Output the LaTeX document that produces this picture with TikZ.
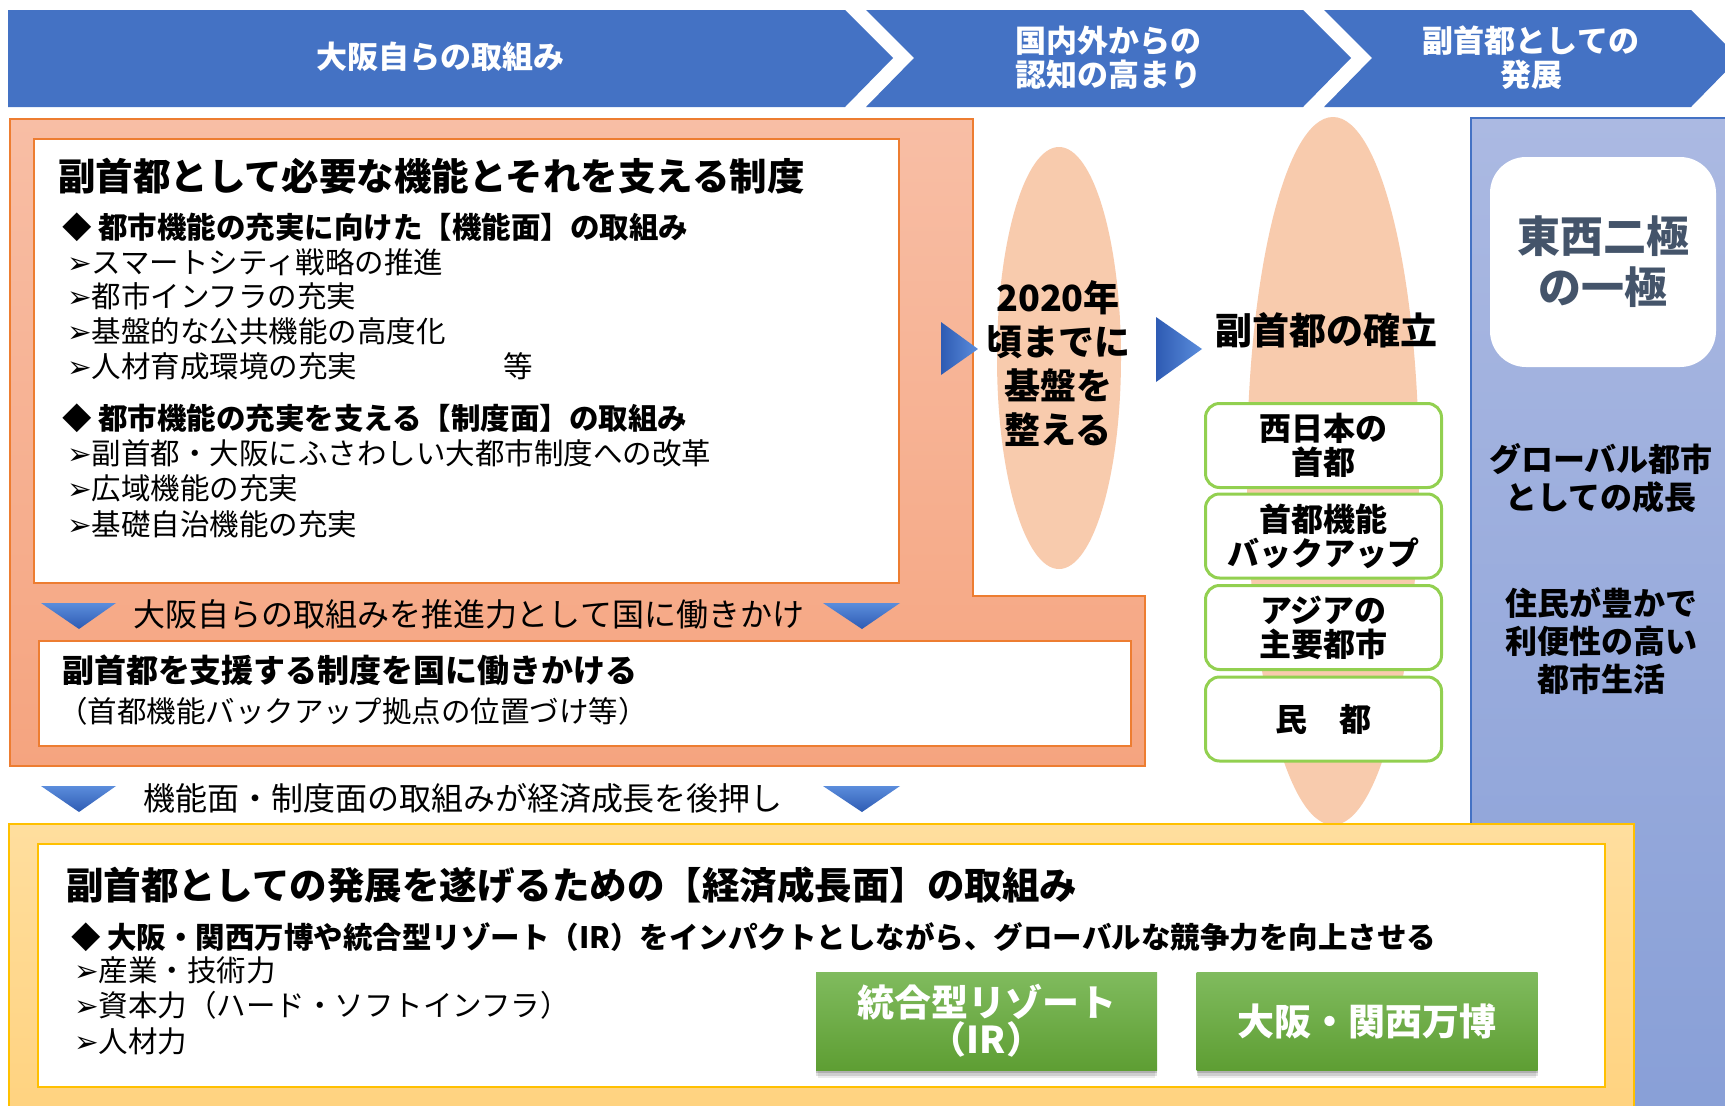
\documentclass[tikz,border=0pt]{standalone}
\usepackage{fontspec}
\setmainfont{Noto Sans CJK JP}
\newfontfamily\dejavu{DejaVu Sans}
\usetikzlibrary{shadows,shapes.geometric}
\newcommand\jfs[2]{\fontsize{#1}{#2}\selectfont}
\newcommand\arr{{\dejavu\bfseries ➢}}
\definecolor{hdrblue}{HTML}{4472C4}
\definecolor{orgtop}{HTML}{F8BEA5}
\definecolor{orgbot}{HTML}{F5A47F}
\definecolor{orgline}{HTML}{ED7D31}
\definecolor{yeltop}{HTML}{FFDE9E}
\definecolor{yelbot}{HTML}{FFD27E}
\definecolor{yelline}{HTML}{FFC000}
\definecolor{paneltop}{HTML}{ABB9E2}
\definecolor{panelbot}{HTML}{889FD7}
\definecolor{ellfill}{HTML}{F8CBAD}
\definecolor{grnline}{HTML}{92D050}
\definecolor{grntop}{HTML}{80BB5E}
\definecolor{grnbot}{HTML}{5E9E33}
\definecolor{tritop}{HTML}{5B8DDC}
\definecolor{tribot}{HTML}{2E5BB3}
\definecolor{slate}{HTML}{44546A}
\begin{document}
\begin{tikzpicture}[x=1pt,y=-1pt]
\tikzset{
  every node/.style={inner sep=0pt, outer sep=0pt},
  txt/.style={anchor=west, font=\jfs{29.5}{35}},
  btxt/.style={anchor=west, font=\bfseries\jfs{29.5}{35}},
  bigtxt/.style={anchor=west, font=\jfs{32}{36}},
  ttl/.style={anchor=west, font=\bfseries\jfs{37.5}{40}},
  hdr/.style={text=white, align=center, font=\bfseries\jfs{31}{34}},
  gbox/.style={draw=grnline, line width=3pt, rounded corners=14pt, fill=white,
    minimum width=236pt, minimum height=84pt, align=center, font=\bfseries\jfs{32}{34}},
  gfill/.style={top color=grntop, bottom color=grnbot, minimum width=341pt,
    minimum height=98pt, align=center, text=white, font=\bfseries\jfs{37}{37},
    general shadow={shadow xshift=0pt, shadow yshift=-9pt, shadow scale=0.99, fill=black, opacity=0.08},
    general shadow={shadow xshift=0pt, shadow yshift=-6pt, fill=black, opacity=0.12},
    general shadow={shadow xshift=0pt, shadow yshift=-3pt, fill=black, opacity=0.15}},
  dtri/.style={top color=tritop, bottom color=tribot},
  rtri/.style={left color=tribot, right color=tritop},
  paneltxt/.style={align=center, font=\bfseries\jfs{32}{38}},
}
\useasboundingbox (0,0) rectangle (1725,1106);
\clip (0,0) rectangle (1725,1106);
\fill[white] (0,0) rectangle (1725,1106);

% right panel
\shade[top color=paneltop, bottom color=panelbot, draw=hdrblue, line width=1.2pt]
  (1471,118) rectangle (1740,1125);
\node[fill=white, rounded corners=36pt, minimum width=226pt, minimum height=210pt]
  (pole) at (1603,262) {};
\node[text=slate, align=center, font=\bfseries\jfs{43}{51}] (poletxt) at (1603,262) {東西二極\\の一極};
\node[paneltxt] (global) at (1601,478) {グローバル都市\\としての成長};
\node[paneltxt] (life) at (1601,641) {住民が豊かで\\利便性の高い\\都市生活};

% header chevrons
\fill[hdrblue] (8,10) -- (845,10) -- (893,58) -- (845,107) -- (8,107) -- cycle;
\fill[hdrblue] (866,10) -- (1303,10) -- (1351,58) -- (1303,107) -- (866,107) -- (914,58) -- cycle;
\fill[hdrblue] (1324,10) -- (1691,10) -- (1739,58) -- (1691,107) -- (1324,107) -- (1372,58) -- cycle;
\node[hdr] (h1) at (440,57) {大阪自らの取組み};
\node[hdr] (h2) at (1108,58) {国内外からの\\認知の高まり};
\node[hdr] (h3) at (1531,58) {副首都としての\\発展};

% orange area
\shade[top color=orgtop, bottom color=orgbot, draw=orgline, line width=1.5pt]
  (10,119) -- (973,119) -- (973,596) -- (1145,596) -- (1145,766) -- (10,766) -- cycle;
\draw[fill=white, draw=orgline, line width=1.5pt] (34,139) rectangle (899,583);
\draw[fill=white, draw=orgline, line width=1.5pt] (39,641) rectangle (1131,746);

\node[ttl] (t1) at (58,176) {副首都として必要な機能とそれを支える制度};
\node[btxt] (f1) at (62,227) {◆ 都市機能の充実に向けた【機能面】の取組み};
\node[txt] (f1a) at (67,262) {\arr スマートシティ戦略の推進};
\node[txt] (f1b) at (67,296) {\arr 都市インフラの充実};
\node[txt] (f1c) at (67,331) {\arr 基盤的な公共機能の高度化};
\node[txt] (f1d) at (67,366) {\arr 人材育成環境の充実};
\node[txt] (etc) at (503,366) {等};
\node[btxt] (f2) at (62,418) {◆ 都市機能の充実を支える【制度面】の取組み};
\node[txt] (f2a) at (67,453) {\arr 副首都・大阪にふさわしい大都市制度への改革};
\node[txt] (f2b) at (67,488) {\arr 広域機能の充実};
\node[txt] (f2c) at (67,524) {\arr 基礎自治機能の充実};

\shade[dtri] (41,603) -- (116,603) -- (79,629) -- cycle;
\shade[dtri] (823,603) -- (900,603) -- (862,629) -- cycle;
\node[bigtxt] (push) at (133,614) {大阪自らの取組みを推進力として国に働きかけ};

\node[anchor=west, font=\bfseries\jfs{32}{36}] (s1) at (62,670) {副首都を支援する制度を国に働きかける};
\node[txt] (s2) at (58,711) {（首都機能バックアップ拠点の位置づけ等）};

% lower arrows
\shade[dtri] (41,786) -- (116,786) -- (79,812) -- cycle;
\shade[dtri] (823,786) -- (900,786) -- (862,812) -- cycle;
\node[bigtxt] (boost) at (143,798) {機能面・制度面の取組みが経済成長を後押し};

% ellipses
\node[ellipse, fill=ellfill, minimum width=124pt, minimum height=422pt] (e1) at (1059,358) {};
\node[align=center, font=\bfseries\jfs{36}{44}] (e1txt) at (1058,364) {2020年\\頃までに\\基盤を\\整える};
\shade[rtri] (941,322) -- (941,375) -- (978,349) -- cycle;
\shade[rtri] (1156,317) -- (1156,382) -- (1202,349) -- cycle;

\node[ellipse, fill=ellfill, minimum width=172pt, minimum height=708pt] (e2) at (1333,471) {};
\node[font=\bfseries\jfs{37}{40}] (estab) at (1326,330) {副首都の確立};
\node[gbox] (g1) at (1323.5,445.5) {西日本の\\首都};
\node[gbox] (g2) at (1323.5,536) {首都機能\\バックアップ};
\node[gbox] (g3) at (1323.5,627.5) {アジアの\\主要都市};
\node[gbox] (g4) at (1323.5,719) {民　都};

% yellow area
\shade[top color=yeltop, bottom color=yelbot, draw=yelline, line width=1.5pt]
  (9,824) rectangle (1634,1125);
\draw[fill=white, draw=yelline, line width=2pt] (38,844) rectangle (1605,1087);
\node[ttl] (t3) at (66,885) {副首都としての発展を遂げるための【経済成長面】の取組み};
\node[btxt] (f3) at (71,937) {◆ 大阪・関西万博や統合型リゾート（IR）をインパクトとしながら、グローバルな競争力を向上させる};
\node[txt] (f3a) at (74,970) {\arr 産業・技術力};
\node[txt] (f3b) at (74,1005) {\arr 資本力（ハード・ソフトインフラ）};
\node[txt] (f3c) at (74,1041) {\arr 人材力};
\node[gfill] (ir) at (986.5,1021) {統合型リゾート\\（IR）};
\node[gfill] (expo) at (1367,1021) {大阪・関西万博};
\end{tikzpicture}
\end{document}
